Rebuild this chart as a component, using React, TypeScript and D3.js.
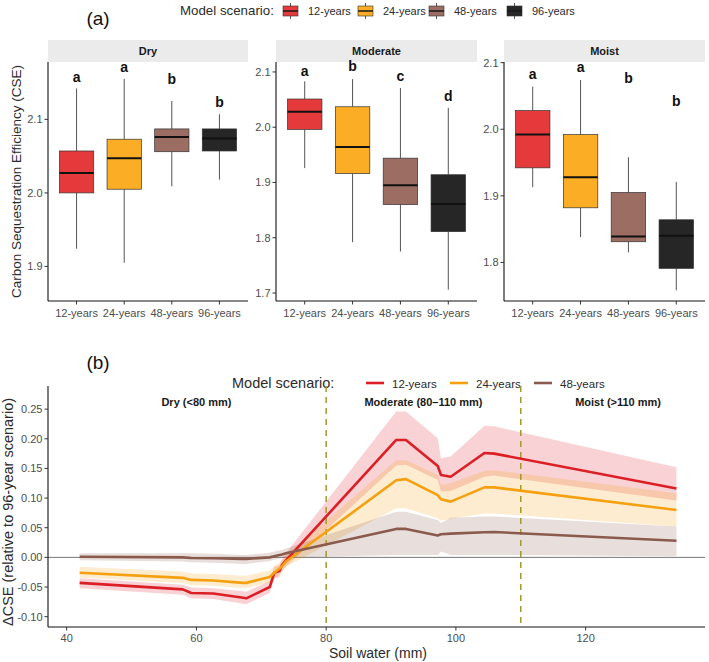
import React, { useRef, useEffect } from 'react';
import * as d3 from 'd3';

const scenarios = ['12-years', '24-years', '48-years', '96-years'];
const boxColors = ['#E53A3C', '#FBAD25', '#9C6E63', '#262626'];
const lineColors = ['#DC1F26', '#F5A00F', '#8A5A4D'];

const facets = ['Dry', 'Moderate', 'Moist'];
// [whisker low, q1, median, q3, whisker high] per scenario
const dryStats = [
  [1.924, 2.0, 2.027, 2.057, 2.142],
  [1.905, 2.005, 2.047, 2.073, 2.155],
  [2.009, 2.056, 2.076, 2.087, 2.125],
  [2.018, 2.057, 2.074, 2.087, 2.107],
];
const moderateStats = [
  [1.926, 1.996, 2.028, 2.051, 2.083],
  [1.792, 1.916, 1.964, 2.037, 2.087],
  [1.775, 1.86, 1.895, 1.944, 2.071],
  [1.706, 1.811, 1.861, 1.914, 2.035],
];
const moistStats = [
  [1.913, 1.942, 1.992, 2.028, 2.064],
  [1.838, 1.882, 1.928, 1.992, 2.074],
  [1.815, 1.831, 1.839, 1.905, 1.958],
  [1.758, 1.791, 1.84, 1.864, 1.921],
];
const dryLetters = ['a', 'a', 'b', 'b'];
const moderateLetters = ['a', 'b', 'c', 'd'];
const moistLetters = ['a', 'a', 'b', 'b'];
const dryLetterY = [2.158, 2.171, 2.155, 2.124];
const moderateLetterY = [2.102, 2.11, 2.093, 2.057];
const moistLetterY = [2.083, 2.093, 2.077, 2.043];
const dryTicks = [1.9, 2.0, 2.1];
const moderateTicks = [1.7, 1.8, 1.9, 2.0, 2.1];
const moistTicks = [1.8, 1.9, 2.0, 2.1];

// panel (b)
const soilWater = [42, 57.9, 59.2, 62.6, 67.2, 67.7, 71.3, 72.0, 72.8, 73.2, 73.8, 90.8, 92.3, 97.2, 97.7, 99.2, 104.4, 105.9, 134];
const cse12 = [-0.043, -0.054, -0.06, -0.061, -0.068, -0.069, -0.05, -0.026, -0.023, -0.013, -0.005, 0.198, 0.198, 0.154, 0.139, 0.136, 0.176, 0.175, 0.116];
const cse12Lo = [-0.052, -0.063, -0.069, -0.07, -0.078, -0.079, -0.06, -0.036, -0.033, -0.024, -0.016, 0.155, 0.156, 0.131, 0.111, 0.112, 0.136, 0.138, 0.096];
const cse12Hi = [-0.035, -0.046, -0.051, -0.052, -0.057, -0.058, -0.04, -0.016, -0.013, -0.003, 0.007, 0.246, 0.246, 0.201, 0.167, 0.17, 0.222, 0.221, 0.152];
const cse24 = [-0.026, -0.0345, -0.038, -0.039, -0.043, -0.043, -0.033, -0.026, -0.019, -0.015, -0.007, 0.13, 0.132, 0.105, 0.098, 0.094, 0.118, 0.118, 0.08];
const cse24Lo = [-0.034, -0.043, -0.047, -0.048, -0.052, -0.052, -0.042, -0.035, -0.028, -0.024, -0.016, 0.083, 0.083, 0.066, 0.062, 0.065, 0.074, 0.074, 0.052];
const cse24Hi = [-0.016, -0.024, -0.027, -0.028, -0.031, -0.031, -0.022, -0.015, -0.009, -0.005, 0.003, 0.164, 0.164, 0.139, 0.122, 0.125, 0.146, 0.147, 0.108];
const cse48 = [0.001, 0.0, -0.001, -0.0015, -0.0025, -0.0025, 0.0, 0.002, 0.004, 0.005, 0.007, 0.048, 0.048, 0.037, 0.039, 0.04, 0.0425, 0.0427, 0.028];
const cse48Lo = [-0.005, -0.007, -0.008, -0.009, -0.011, -0.011, -0.006, -0.004, -0.002, -0.001, 0.0, 0.004, 0.004, 0.004, 0.01, 0.004, 0.004, 0.004, 0.002];
const cse48Hi = [0.007, 0.007, 0.007, 0.006, 0.004, 0.004, 0.008, 0.01, 0.012, 0.013, 0.015, 0.077, 0.077, 0.063, 0.058, 0.067, 0.069, 0.069, 0.052];
const soilTicks = [40, 60, 80, 100, 120];
const cseTicks = [-0.1, -0.05, 0, 0.05, 0.1, 0.15, 0.2, 0.25];
const zoneBreaks = [80, 110];
const zoneLabels = ['Dry (<80 mm)', 'Moderate (80\u2013110 mm)', 'Moist (>110 mm)'];
const zoneLabelX = [60, 95, 125];

const App = () => {
  const ref = useRef<SVGSVGElement>(null);

  useEffect(() => {
    document.body.style.margin = '0';
    const svg = d3.select(ref.current);
    svg.selectAll('*').remove();
    svg.attr('font-family', "'Liberation Sans', Arial, sans-serif");

    const tickCol = '#4D4D4D';
    const titleCol = '#2b2b2b';

    // ---------- (a) ----------
    svg.append('text').attr('x', 98).attr('y', 25).attr('text-anchor', 'middle')
      .attr('font-size', 19).attr('fill', '#111').text('(a)');

    svg.append('text').attr('x', 180).attr('y', 15).attr('font-size', 13.3).attr('fill', titleCol).text('Model scenario:');
    const keyX = [283, 358, 429, 507];
    scenarios.forEach((s, i) => {
      const g = svg.append('g').attr('transform', `translate(${keyX[i]},0)`);
      g.append('line').attr('x1', 7.5).attr('x2', 7.5).attr('y1', 3).attr('y2', 19).attr('stroke', '#555');
      g.append('rect').attr('x', 0).attr('y', 6).attr('width', 15).attr('height', 10)
        .attr('fill', boxColors[i]).attr('stroke', '#333').attr('stroke-width', 0.6);
      g.append('line').attr('x1', 0).attr('x2', 15).attr('y1', 11).attr('y2', 11).attr('stroke', '#1a1a1a').attr('stroke-width', 1.5);
      svg.append('text').attr('x', keyX[i] + 25).attr('y', 15).attr('font-size', 11).attr('fill', titleCol).text(s);
    });

    const facetX0 = [48, 276, 504];
    const facetX1 = [248, 477, 705];
    const facetDomain = [[1.853, 2.178], [1.6855, 2.118], [1.742, 2.101]];
    const facetStats = [dryStats, moderateStats, moistStats];
    const facetLetters = [dryLetters, moderateLetters, moistLetters];
    const facetLetterY = [dryLetterY, moderateLetterY, moistLetterY];
    const facetTicks = [dryTicks, moderateTicks, moistTicks];
    const top = 62;
    const bottom = 301;

    facets.forEach((f, fi) => {
      const x0 = facetX0[fi];
      const x1 = facetX1[fi];
      const x = d3.scalePoint().domain(scenarios).range([x0, x1]).padding(0.6);
      const y = d3.scaleLinear().domain(facetDomain[fi]).range([bottom, top]);
      const bw = x.step() * 0.72;
      const g = svg.append('g');

      g.append('rect').attr('x', x0).attr('y', 40).attr('width', x1 - x0).attr('height', 22).attr('fill', '#EBEBEB');
      g.append('text').attr('x', (x0 + x1) / 2).attr('y', 55).attr('text-anchor', 'middle')
        .attr('font-size', 11).attr('font-weight', 'bold').attr('fill', '#1a1a1a').text(f);

      facetStats[fi].forEach((st, i) => {
        const cx = x(scenarios[i]) as number;
        g.append('line').attr('x1', cx).attr('x2', cx).attr('y1', y(st[0])).attr('y2', y(st[1])).attr('stroke', '#555');
        g.append('line').attr('x1', cx).attr('x2', cx).attr('y1', y(st[3])).attr('y2', y(st[4])).attr('stroke', '#555');
        g.append('rect').attr('x', cx - bw / 2).attr('y', y(st[3])).attr('width', bw).attr('height', y(st[1]) - y(st[3]))
          .attr('fill', boxColors[i]).attr('stroke', '#333').attr('stroke-width', 0.7);
        g.append('line').attr('x1', cx - bw / 2).attr('x2', cx + bw / 2).attr('y1', y(st[2])).attr('y2', y(st[2]))
          .attr('stroke', '#111').attr('stroke-width', 2);
        g.append('text').attr('x', cx).attr('y', y(facetLetterY[fi][i]) + 5).attr('text-anchor', 'middle')
          .attr('font-size', 14).attr('font-weight', 'bold').attr('fill', '#111').text(facetLetters[fi][i]);
      });

      // axes
      g.append('line').attr('x1', x0).attr('x2', x0).attr('y1', top).attr('y2', bottom).attr('stroke', '#111').attr('stroke-width', 1.1);
      g.append('line').attr('x1', x0).attr('x2', x1).attr('y1', bottom).attr('y2', bottom).attr('stroke', '#111').attr('stroke-width', 1.1);
      facetTicks[fi].forEach((t) => {
        g.append('line').attr('x1', x0 - 3.5).attr('x2', x0).attr('y1', y(t)).attr('y2', y(t)).attr('stroke', '#333');
        g.append('text').attr('x', x0 - 5.5).attr('y', y(t) + 4).attr('text-anchor', 'end')
          .attr('font-size', 11).attr('fill', tickCol).text(t.toFixed(1));
      });
      scenarios.forEach((s) => {
        const cx = x(s) as number;
        g.append('line').attr('x1', cx).attr('x2', cx).attr('y1', bottom).attr('y2', bottom + 3.5).attr('stroke', '#333');
        g.append('text').attr('x', cx).attr('y', bottom + 15.5).attr('text-anchor', 'middle')
          .attr('font-size', 11).attr('fill', tickCol).text(s);
      });
    });

    svg.append('text').attr('transform', `translate(21,${(top + bottom) / 2}) rotate(-90)`).attr('text-anchor', 'middle')
      .attr('font-size', 13.5).attr('fill', titleCol).text('Carbon Sequestration Efficiency (CSE)');

    // ---------- (b) ----------
    svg.append('text').attr('x', 98).attr('y', 369).attr('text-anchor', 'middle')
      .attr('font-size', 19).attr('fill', '#111').text('(b)');
    svg.append('text').attr('x', 232).attr('y', 388).attr('font-size', 14.5).attr('fill', titleCol).text('Model scenario:');
    const lineKeyX = [366, 450, 534];
    scenarios.slice(0, 3).forEach((s, i) => {
      svg.append('line').attr('x1', lineKeyX[i]).attr('x2', lineKeyX[i] + 18).attr('y1', 383).attr('y2', 383)
        .attr('stroke', lineColors[i]).attr('stroke-width', 2.6);
      svg.append('text').attr('x', lineKeyX[i] + 26).attr('y', 387.5).attr('font-size', 11.5).attr('fill', titleCol).text(s);
    });

    const bx0 = 48;
    const bx1 = 705;
    const bTop = 386;
    const bBottom = 627;
    const xs = d3.scaleLinear().domain([37.12, 138.4]).range([bx0, bx1]);
    const ys = d3.scaleLinear().domain([-0.1174, 0.289]).range([bBottom, bTop]);
    const gb = svg.append('g');

    gb.append('line').attr('x1', bx0).attr('x2', bx1).attr('y1', ys(0)).attr('y2', ys(0)).attr('stroke', '#777').attr('stroke-width', 1);

    const series = [
      { mid: cse12, lo: cse12Lo, hi: cse12Hi },
      { mid: cse24, lo: cse24Lo, hi: cse24Hi },
      { mid: cse48, lo: cse48Lo, hi: cse48Hi },
    ];
    const area = d3.area<number>()
      .x((_, i) => xs(soilWater[i]));
    series.forEach((s, si) => {
      gb.append('path')
        .attr('d', area.y0((_, i) => ys(s.lo[i])).y1((_, i) => ys(s.hi[i]))(soilWater) as string)
        .attr('fill', lineColors[si]).attr('fill-opacity', 0.2);
    });

    zoneBreaks.forEach((b) => {
      gb.append('line').attr('x1', xs(b)).attr('x2', xs(b)).attr('y1', bTop).attr('y2', bBottom)
        .attr('stroke', '#A09A2E').attr('stroke-width', 1.5).attr('stroke-dasharray', '6,5');
    });

    const line = d3.line<number>().x((_, i) => xs(soilWater[i]));
    series.forEach((s, si) => {
      gb.append('path')
        .attr('d', line.y((_, i) => ys(s.mid[i]))(soilWater) as string)
        .attr('fill', 'none').attr('stroke', lineColors[si]).attr('stroke-width', 2.6).attr('stroke-linejoin', 'round');
    });

    zoneLabels.forEach((l, i) => {
      gb.append('text').attr('x', xs(zoneLabelX[i])).attr('y', ys(0.262) + 4).attr('text-anchor', 'middle')
        .attr('font-size', 11).attr('font-weight', 'bold').attr('fill', '#1a1a1a').text(l);
    });

    gb.append('line').attr('x1', bx0).attr('x2', bx0).attr('y1', bTop).attr('y2', bBottom).attr('stroke', '#111').attr('stroke-width', 1.1);
    gb.append('line').attr('x1', bx0).attr('x2', bx1).attr('y1', bBottom).attr('y2', bBottom).attr('stroke', '#111').attr('stroke-width', 1.1);
    cseTicks.forEach((t) => {
      gb.append('line').attr('x1', bx0 - 3.5).attr('x2', bx0).attr('y1', ys(t)).attr('y2', ys(t)).attr('stroke', '#333');
      gb.append('text').attr('x', bx0 - 5.5).attr('y', ys(t) + 4).attr('text-anchor', 'end')
        .attr('font-size', 11).attr('fill', tickCol).text(t.toFixed(2));
    });
    soilTicks.forEach((t) => {
      gb.append('line').attr('x1', xs(t)).attr('x2', xs(t)).attr('y1', bBottom).attr('y2', bBottom + 3.5).attr('stroke', '#333');
      gb.append('text').attr('x', xs(t)).attr('y', bBottom + 14.5).attr('text-anchor', 'middle')
        .attr('font-size', 11).attr('fill', tickCol).text(String(t));
    });

    svg.append('text').attr('x', 378).attr('y', 658).attr('text-anchor', 'middle')
      .attr('font-size', 14).attr('fill', titleCol).text('Soil water (mm)');
    svg.append('text').attr('transform', `translate(13,512) rotate(-90)`).attr('text-anchor', 'middle')
      .attr('font-size', 14.5).attr('fill', titleCol).text('\u0394CSE (relative to 96-year scenario)');
  }, []);

  return <svg ref={ref} width={709} height={662} style={{ display: 'block' }}></svg>;
};

export default App;
